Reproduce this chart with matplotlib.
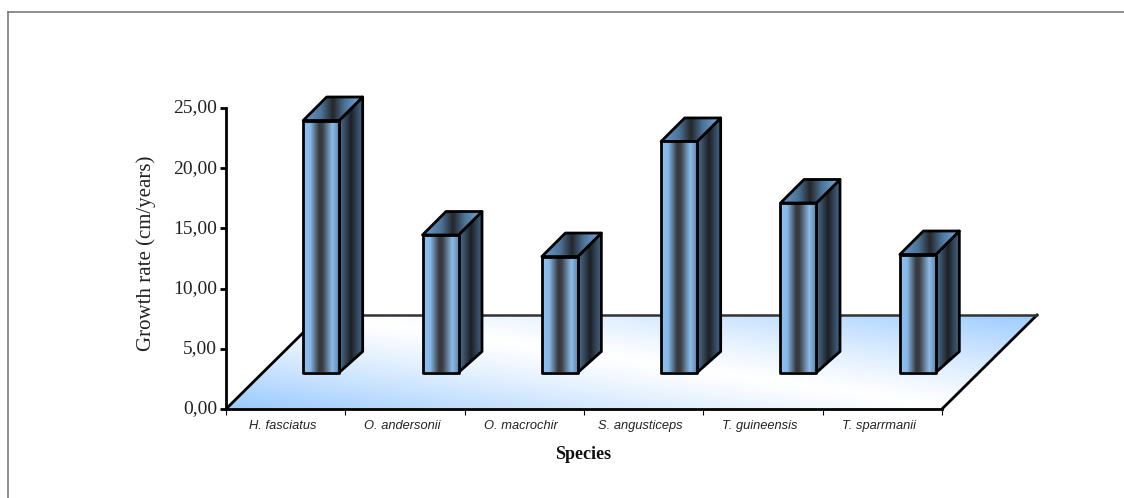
import numpy as np
import matplotlib
matplotlib.use('Agg')
import matplotlib.pyplot as plt
from matplotlib.colors import LinearSegmentedColormap, to_rgb
from matplotlib.lines import Line2D
from matplotlib.patches import Polygon
from matplotlib.transforms import ScaledTranslation

species = ['H. fasciatus', 'O. andersonii', 'O. macrochir',
           'S. angusticeps', 'T. guineensis', 'T. sparrmanii']
growth_rate = [20.93, 11.42, 9.63, 19.19, 14.08, 9.80]
y_ticks = [0, 5, 10, 15, 20, 25]
y_tick_labels = ['0,00', '5,00', '10,00', '15,00', '20,00', '25,00']

FIG_W, FIG_H = 1124, 498
AX_LEFT, AX_RIGHT, AX_TOP, AX_BOTTOM = 226, 942, 108, 409

# pixel to data conversion, the fake 3D offsets are all worked out with these
PX_X = len(species) / (AX_RIGHT - AX_LEFT)
PX_Y = 25 / (AX_BOTTOM - AX_TOP)

FLOOR_DX, FLOOR_DY = 95 * PX_X, 94 * PX_Y
BAR_DX, BAR_DY = 35.5 * PX_X, 36.5 * PX_Y
BAR_W = 36 * PX_X
SIDE_DX = 23.5 * PX_X
SIDE_DY_TOP, SIDE_DY_BASE = 23.5 * PX_Y, 21 * PX_Y

EDGE_LW = 2.0
FLOOR_BLUE = np.array(to_rgb('#9acaff'))

front_cmap = LinearSegmentedColormap.from_list('front', [
    (0.0, '#8fc3f5'), (0.2, '#86b8e8'), (0.45, '#34373b'), (0.55, '#3c4046'),
    (0.82, '#8cbcea'), (1.0, '#5f85aa')])
side_cmap = LinearSegmentedColormap.from_list('side', [
    (0.0, '#4d7195'), (0.5, '#1e2024'), (1.0, '#456a8e')])
top_cmap = LinearSegmentedColormap.from_list('top', [
    (0.0, '#6a9ccd'), (0.3, '#4d7398'), (0.5, '#24262a'), (0.7, '#4d7398'), (1.0, '#7ab0e4')])


def gradient_face(ax, corners, cmap, zorder):
    """Fill a polygon with a left to right gradient and a black outline."""
    corners = np.array(corners)
    outline = Polygon(corners, closed=True, facecolor='none', edgecolor='black',
                      linewidth=EDGE_LW, joinstyle='round', clip_on=False, zorder=zorder + 0.1)
    ax.add_patch(outline)
    extent = (corners[:, 0].min(), corners[:, 0].max(), corners[:, 1].min(), corners[:, 1].max())
    im = ax.imshow(np.linspace(0, 1, 128).reshape(1, -1), cmap=cmap, extent=extent,
                   aspect='auto', interpolation='bilinear', zorder=zorder)
    im.set_clip_box(ax.figure.bbox)
    im.set_clip_path(Polygon(corners, closed=True, transform=ax.transData))


def draw_floor(ax):
    n = len(species)
    corners = [(0, 0), (n, 0), (n + FLOOR_DX, FLOOR_DY), (FLOOR_DX, FLOOR_DY)]

    # blue in the front left and back right corners, white along the diagonal between them
    px = np.linspace(AX_LEFT, AX_RIGHT + 95, 400)
    py = np.linspace(AX_BOTTOM - 94, AX_BOTTOM, 150)
    xx, yy = np.meshgrid(px, py)
    t = np.clip(np.abs(yy - (302 + 0.145 * (xx - AX_LEFT))) / 105, 0, 1) ** 1.2
    rgb = 1 - t[..., None] * (1 - FLOOR_BLUE)
    im = ax.imshow(rgb, origin='upper', aspect='auto', interpolation='bilinear', zorder=1,
                   extent=(0, n + FLOOR_DX, 0, FLOOR_DY))
    im.set_clip_box(ax.figure.bbox)
    im.set_clip_path(Polygon(corners, closed=True, transform=ax.transData))

    ax.plot([0, FLOOR_DX], [0, FLOOR_DY], color='black', lw=EDGE_LW, clip_on=False, zorder=2)
    ax.plot([n, n + FLOOR_DX], [0, FLOOR_DY], color='black', lw=EDGE_LW, clip_on=False, zorder=2)
    ax.plot([FLOOR_DX, n + FLOOR_DX], [FLOOR_DY, FLOOR_DY], color='#333333', lw=1.8,
            clip_on=False, solid_capstyle='round', zorder=2)


def draw_bar(ax, index, value):
    x0 = index + 0.5 + BAR_DX - BAR_W / 2
    x1 = x0 + BAR_W
    y0 = BAR_DY
    y1 = BAR_DY + value
    z = 3 + index
    gradient_face(ax, [(x1, y0), (x1 + SIDE_DX, y0 + SIDE_DY_BASE),
                       (x1 + SIDE_DX, y1 + SIDE_DY_TOP), (x1, y1)], side_cmap, z)
    gradient_face(ax, [(x0, y1), (x1, y1), (x1 + SIDE_DX, y1 + SIDE_DY_TOP),
                       (x0 + SIDE_DX, y1 + SIDE_DY_TOP)], top_cmap, z + 0.2)
    gradient_face(ax, [(x0, y0), (x1, y0), (x1, y1), (x0, y1)], front_cmap, z + 0.4)


fig = plt.figure(figsize=(FIG_W / 100, FIG_H / 100), dpi=100)
ax = fig.add_axes([AX_LEFT / FIG_W, 1 - AX_BOTTOM / FIG_H,
                   (AX_RIGHT - AX_LEFT) / FIG_W, (AX_BOTTOM - AX_TOP) / FIG_H])
ax.patch.set_visible(False)

draw_floor(ax)
for i, v in enumerate(growth_rate):
    draw_bar(ax, i, v)

ax.set_xlim(0, len(species))
ax.set_ylim(0, 25)

for side in ['top', 'right']:
    ax.spines[side].set_visible(False)
ax.spines['left'].set_linewidth(EDGE_LW)
ax.spines['bottom'].set_linewidth(EDGE_LW)
ax.spines['left'].set_zorder(20)
ax.spines['bottom'].set_zorder(20)

ax.set_yticks(y_ticks)
ax.set_yticklabels(y_tick_labels, family='Liberation Serif', fontsize=14, color='#222222')
ax.tick_params(axis='y', length=4.5, width=2.0, pad=2)

# nudge the value labels up a little so they sit just above their ticks
nudge = ScaledTranslation(0, 2 / 100, fig.dpi_scale_trans)
for label in ax.get_yticklabels():
    label.set_transform(label.get_transform() + nudge)

# ticks sit on the category boundaries, labels in between
ax.set_xticks(np.arange(len(species) + 1))
ax.set_xticklabels([])
ax.set_xticks(np.arange(len(species)) + 0.5 - 3 * PX_X, minor=True)
ax.set_xticklabels(species, minor=True, family='Liberation Sans', style='italic',
                   fontsize=9.3, color='#222222')
ax.tick_params(axis='x', which='major', length=4, width=0.8)
ax.tick_params(axis='x', which='minor', length=0, pad=8)

fig.text(146 / FIG_W, 1 - 253 / FIG_H, 'Growth rate (cm/years)', rotation=90, ha='center', va='center',
         family='Liberation Serif', fontsize=15, color='#222222')
fig.text(583 / FIG_W, 1 - 454 / FIG_H, 'Species', ha='center', va='center',
         family='Liberation Serif', weight='bold', fontsize=13, color='#111111')

# outer frame, only the left and top edges fall inside the image
frame = dict(color='#707070', lw=1.1, transform=fig.transFigure)
fig.add_artist(Line2D([8 / FIG_W, 8 / FIG_W], [0, 1 - 12 / FIG_H], **frame))
fig.add_artist(Line2D([8 / FIG_W, 1], [1 - 12 / FIG_H, 1 - 12 / FIG_H], **frame))

fig.savefig('out.png', dpi=100)
plt.close(fig)
